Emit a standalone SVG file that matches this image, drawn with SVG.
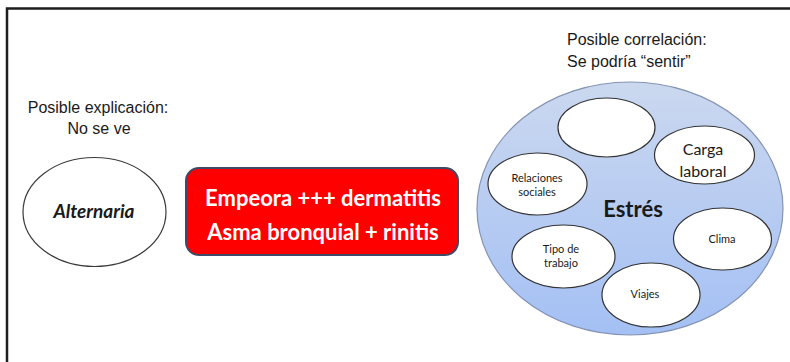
<svg xmlns="http://www.w3.org/2000/svg" width="790" height="362" viewBox="0 0 790 362">
  <defs>
    <linearGradient id="stressFill" x1="0" y1="0" x2="0" y2="1">
      <stop offset="0" stop-color="#cbd8ef"/>
      <stop offset="1" stop-color="#a4c0f4"/>
    </linearGradient>
    <style>
      .caption { font-family: "Liberation Sans", Arial, sans-serif; font-size: 16px; fill: #1a1a1a; }
      .bubble { fill: #ffffff; stroke: #333333; stroke-width: 1.2; }
      .label { font-family: Lato, "Open Sans", sans-serif; fill: #1a1a1a; text-anchor: middle; }
      .small { font-size: 11px; }
      .inverse { fill: #ffffff; font-size: 22px; font-weight: bold; }
    </style>
  </defs>
  <rect width="790" height="362" fill="#ffffff"/>
  <!-- page frame: top and left edges -->
  <path d="M7,362 V8.5 H790" fill="none" stroke="#1e1e1e" stroke-width="2.5"/>

  <g id="connectors"/>

  <!-- left column -->
  <g id="explicacion">
    <text class="caption" x="98" y="113" text-anchor="middle">Posible explicación:</text>
    <text class="caption" x="99" y="134" text-anchor="middle">No se ve</text>
  </g>
  <g id="alternaria">
    <ellipse cx="94.5" cy="212" rx="71.5" ry="54.5" fill="#ffffff" stroke="#3a3a3a" stroke-width="1.2"/>
    <text class="label" x="94" y="218" font-size="19" font-weight="bold" font-style="italic">Alternaria</text>
  </g>

  <!-- centre box -->
  <g id="efecto">
    <rect x="186" y="168" width="272" height="87" rx="13" fill="#ff0000" stroke="#404a66" stroke-width="2"/>
    <text class="label inverse" x="323" y="206">Empeora +++ dermatitis</text>
    <text class="label inverse" x="323" y="240">Asma bronquial + rinitis</text>
  </g>

  <!-- right column -->
  <g id="correlacion">
    <text class="caption" x="567" y="45">Posible correlación:</text>
    <text class="caption" x="567" y="67">Se podría “sentir”</text>
  </g>
  <g id="estres">
    <ellipse cx="630" cy="208.5" rx="153" ry="126.5" fill="url(#stressFill)" stroke="#8594b3" stroke-width="1.2"/>
    <text class="label" x="633" y="217" font-size="22" font-weight="bold">Estrés</text>
  </g>
  <g id="vacio">
    <ellipse class="bubble" cx="606.5" cy="127.5" rx="48.5" ry="29.5"/>
  </g>
  <g id="carga-laboral">
    <ellipse class="bubble" cx="704.5" cy="155" rx="50" ry="29"/>
    <text class="label" x="703" y="155" font-size="16">Carga</text>
    <text class="label" x="703" y="177" font-size="16">laboral</text>
  </g>
  <g id="relaciones-sociales">
    <ellipse class="bubble" cx="537.5" cy="184" rx="49.5" ry="31"/>
    <text class="label small" x="537" y="182">Relaciones</text>
    <text class="label small" x="537" y="196">sociales</text>
  </g>
  <g id="tipo-trabajo">
    <ellipse class="bubble" cx="563.5" cy="256.5" rx="51.5" ry="31.5"/>
    <text class="label small" x="561" y="253">Tipo de</text>
    <text class="label small" x="561" y="267">trabajo</text>
  </g>
  <g id="clima">
    <ellipse class="bubble" cx="722.5" cy="239" rx="49" ry="31"/>
    <text class="label small" x="722" y="243">Clima</text>
  </g>
  <g id="viajes">
    <ellipse class="bubble" cx="651" cy="295" rx="49" ry="32"/>
    <text class="label small" x="645" y="298">Viajes</text>
  </g>
</svg>
